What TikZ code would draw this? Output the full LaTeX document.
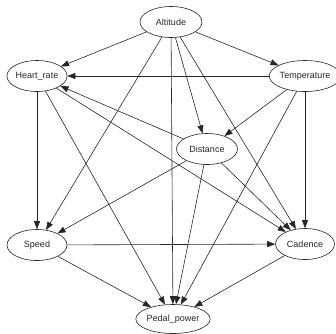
\documentclass[tikz,border=0pt]{standalone}
\usepackage{fontspec}
\setmainfont{Liberation Sans}
\usetikzlibrary{shapes.geometric,arrows.meta}
\begin{document}
\begin{tikzpicture}[x=1pt,y=-1pt,
  var/.style={ellipse,draw=black!85,line width=0.6pt,inner sep=0pt,
    minimum height=31pt,font=\fontsize{9}{10}\selectfont,text=black!85},
  dep/.style={draw=black!85,line width=0.6pt,
    -{Triangle[length=8pt,width=6pt]}}]
\useasboundingbox (0,0) rectangle (336,333);
\node[var,minimum width=62pt] (alt) at (171,22) {Altitude};
\node[var,minimum width=60pt] (hr)  at (37,76)  {Heart\_rate};
\node[var,minimum width=61pt] (tmp) at (305,76) {Temperature};
\node[var,minimum width=61pt] (dst) at (207,149) {Distance};
\node[var,minimum width=60pt] (spd) at (37,245) {Speed};
\node[var,minimum width=59pt] (cad) at (305,244) {Cadence};
\node[var,minimum width=68pt,minimum height=29pt] (pp) at (173,319) {Pedal\_power};
% altitude drives everything
\draw[dep] (alt) -- (hr);
\draw[dep] (alt) -- (tmp);
\draw[dep] (alt) -- (spd);
\draw[dep] (alt) -- (pp);
\draw[dep] (alt) -- (dst);
\draw[dep] (alt) -- (cad);
% temperature
\draw[dep] (tmp) -- (hr);
\draw[dep] (tmp) -- (dst);
\draw[dep] (tmp) -- (cad);
\draw[dep] (tmp) -- (pp);
% distance
\draw[dep] (dst) -- (hr);
\draw[dep] (dst) -- (spd);
\draw[dep] (dst) -- (pp);
\draw[dep] (dst) -- (cad);
% heart rate
\draw[dep] (hr) -- (spd);
\draw[dep] (hr) -- (pp);
\draw[dep] (hr) -- (cad);
% speed and cadence
\draw[dep] (spd) -- (cad);
\draw[dep] (spd) -- (pp);
\draw[dep] (cad) -- (pp);
\end{tikzpicture}
\end{document}
